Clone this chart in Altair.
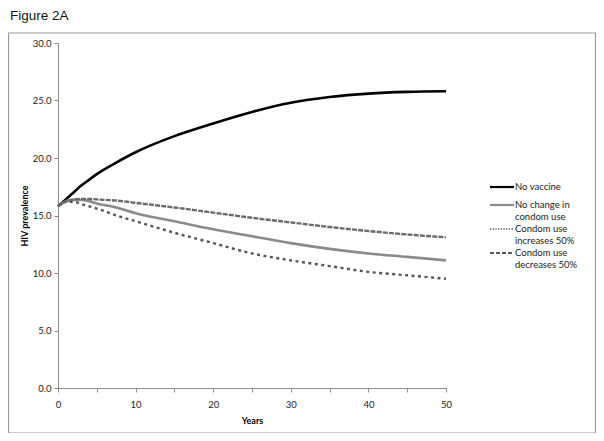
import altair as alt
import pandas as pd

# ---- data ----
years = [0, 1, 2, 3, 4, 5, 7.5, 10, 15, 20, 25, 30, 35, 40, 45, 50]
no_vaccine = [15.8, 16.4, 17.0, 17.6, 18.1, 18.6, 19.6, 20.5, 21.9, 23.0, 24.0, 24.8, 25.3, 25.6, 25.75, 25.8]
no_change = [15.8, 16.2, 16.35, 16.35, 16.25, 16.05, 15.7, 15.2, 14.5, 13.8, 13.2, 12.6, 12.1, 11.7, 11.4, 11.1]
cond_increase = [15.8, 16.2, 16.2, 16.0, 15.8, 15.6, 15.0, 14.5, 13.5, 12.6, 11.7, 11.1, 10.6, 10.1, 9.8, 9.5]
cond_decrease = [15.8, 16.25, 16.4, 16.45, 16.45, 16.4, 16.3, 16.1, 15.7, 15.25, 14.8, 14.4, 14.0, 13.65, 13.35, 13.1]

series_names = ["No vaccine", "No change in condom use", "Condom use increases 50%", "Condom use decreases 50%"]
legend_labels = ["No vaccine", "No change in\ncondom use", "Condom use\nincreases 50%", "Condom use\ndecreases 50%"]
y_ticks = [0, 5, 10, 15, 20, 25, 30]
x_ticks = [0, 5, 10, 15, 20, 25, 30, 35, 40, 45, 50]
fig_title = "Figure 2A"
x_title = "Years"
y_title = "HIV prevalence"

values = [no_vaccine, no_change, cond_increase, cond_decrease]
styles = [
    dict(color="#000000", strokeWidth=2.6),
    dict(color="#8a8a8a", strokeWidth=2.6),
    dict(color="#555555", strokeWidth=2.4, strokeDash=[3, 3.5]),
    dict(color="#6a6a6a", strokeWidth=2.4, strokeDash=[5, 1.2]),
]
legend_styles = [
    dict(color="#000000", strokeWidth=2.2),
    dict(color="#8a8a8a", strokeWidth=2.2),
    dict(color="#444444", strokeWidth=1.3, strokeDash=[1.2, 1.5]),
    dict(color="#555555", strokeWidth=1.8, strokeDash=[4, 2]),
]

W, H = 388, 345
FONT = "Lato"

xscale = alt.Scale(domain=[0, 50], nice=False, zero=False)
yscale = alt.Scale(domain=[0, 30], nice=False)

xaxis = alt.Axis(values=x_ticks, labelExpr="datum.value % 10 == 0 ? datum.label : ''",
                 title=x_title, grid=False, domainColor="#8c8c8c", tickColor="#8c8c8c",
                 tickSize=4, labelPadding=7, labelFontSize=9.5, labelFont=FONT, labelColor="#222",
                 titleFont=FONT, titleFontSize=9, titleFontWeight="bold", titlePadding=8,
                 labelFlush=False)
yaxis = alt.Axis(values=y_ticks, format=".1f", title=y_title, grid=False,
                 domainColor="#8c8c8c", tickColor="#8c8c8c", tickSize=4, labelPadding=3,
                 labelFontSize=9.5, labelFont=FONT, labelColor="#222",
                 titleFont=FONT, titleFontSize=9, titleFontWeight="bold", titlePadding=3)

layers = []

for i, (name, vals) in enumerate(zip(series_names, values)):
    df = pd.DataFrame({"year": years, "prev": vals, "series": name})
    st = styles[i]
    kw = dict(color=st["color"], strokeWidth=st["strokeWidth"], interpolate="monotone", clip=False)
    if "strokeDash" in st:
        kw["strokeDash"] = st["strokeDash"]
    enc = dict(
        x=alt.X("year:Q", scale=xscale, axis=xaxis),
        y=alt.Y("prev:Q", scale=yscale, axis=yaxis),
    )
    layers.append(alt.Chart(df).mark_line(**kw).encode(**enc))

# frame around the chart area
frame = alt.Chart(pd.DataFrame({"a": [0]})).mark_rect(
    fill=None, stroke="#9a9a9a", strokeWidth=1.2
).encode(x=alt.value(-49.5), x2=alt.value(537.5), y=alt.value(-10), y2=alt.value(390))
layers.append(frame)

# figure title
title_layer = alt.Chart(pd.DataFrame({"t": [fig_title]})).mark_text(
    align="left", baseline="alphabetic", font="Liberation Sans", fontSize=13.5, color="#111"
).encode(text="t:N", x=alt.value(-48), y=alt.value(-23))
layers.append(title_layer)

# manual legend
leg_y = [144, 162, 186, 210]
for i, lab in enumerate(legend_labels):
    st = legend_styles[i]
    kw = dict(color=st["color"], strokeWidth=st["strokeWidth"])
    if "strokeDash" in st:
        kw["strokeDash"] = st["strokeDash"]
    sym = alt.Chart(pd.DataFrame({"a": [0]})).mark_rule(**kw).encode(
        x=alt.value(432), x2=alt.value(456), y=alt.value(leg_y[i]))
    txt = alt.Chart(pd.DataFrame({"t": [lab]})).mark_text(
        align="left", baseline="middle", font=FONT, fontSize=9.5, color="#222",
        lineBreak="\n", lineHeight=12
    ).encode(text="t:N", x=alt.value(457), y=alt.value(leg_y[i]))
    layers += [sym, txt]

chart = alt.layer(*layers).properties(
    width=W, height=H,
    autosize=alt.AutoSizeParams(type="none"),
    padding={"left": 50, "top": 35, "right": 150, "bottom": 45},
).configure_view(stroke=None)

chart.save("out.html", embed_options={"renderer": "svg", "actions": False})
